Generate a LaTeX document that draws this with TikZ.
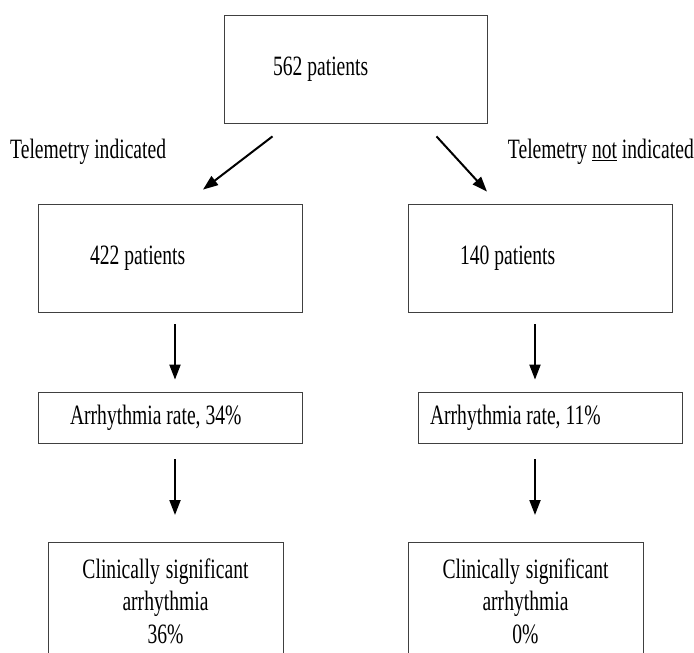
\documentclass[tikz,border=0pt]{standalone}
\usepackage{fontspec}
\setmainfont{Liberation Serif}[FakeStretch=0.7]
\usetikzlibrary{arrows.meta}
\tikzset{
  box/.style={draw=black!75, line width=0.8pt, font=\fontsize{28}{32.5}\selectfont,
    execute at begin node={\spaceskip=0pt\xspaceskip=0pt}},
  lbl/.style={font=\fontsize{28}{32.5}\selectfont, inner sep=0pt},
  flow/.style={-{Triangle[length=15pt,width=11pt]}, line width=2pt}
}
\begin{document}
\begin{tikzpicture}[x=1pt, y=-1pt]
            \clip (0,0) rectangle (694,653) ;
            \node[box, text width=165pt, inner xsep=49pt, minimum height=108pt, align=left] (all) at (355.5,69) {562 patients};
            \node[lbl, anchor=west] (yes) at (10,152) {Telemetry indicated};
            \node[lbl, anchor=east] (no) at (694,152) {Telemetry \underline{not} indicated};
            
            \node[box, text width=160pt, inner xsep=52pt, minimum height=108pt, align=left] (pyes) at (170,258) {422 patients};
            \node[box, text width=160pt, inner xsep=52pt, minimum height=108pt, align=left] (pno) at (540,258) {140 patients};
            \draw[flow] ([xshift=-83pt,yshift=-13pt]all.south) -- ([xshift=33pt,yshift=14pt]pyes.north) ;
            \draw[flow] ([xshift=81pt,yshift=-13pt]all.south) -- ([xshift=-53pt,yshift=12pt]pno.north) ;
            
            \node[box, text width=200pt, inner xsep=32pt, minimum height=51pt, align=left] (ryes) at (170,417.5) {Arrhythmia rate, 34\%};
            \node[box, text width=240pt, inner xsep=12pt, minimum height=51pt, align=left] (rno) at (550,417.5) {Arrhythmia rate, 11\%};
            \draw[flow] ([xshift=5pt,yshift=-12pt]pyes.south) -- ([xshift=5pt,yshift=12pt]pyes.south |- ryes.north) ;
            \draw[flow] ([xshift=-5pt,yshift=-12pt]pno.south) -- ([xshift=-5pt,yshift=12pt]pno.south |- rno.north) ;
            
            \node[box, text width=215pt, inner xsep=10pt, inner ysep=16pt, anchor=north, align=center] (cyes) at (165.5,542) {Clinically significant\\arrhythmia\\36\%\\[8pt]};
            \node[box, text width=215pt, inner xsep=10pt, inner ysep=16pt, anchor=north, align=center] (cno) at (525.5,542) {Clinically significant\\arrhythmia\\0\%\\[8pt]};
            \draw[flow] ([xshift=5pt,yshift=-16pt]ryes.south) -- ([xshift=5pt,yshift=27pt]ryes.south |- cyes.north) ;
            \draw[flow] ([xshift=-5pt,yshift=-16pt]pno.south |- rno.south) -- ([xshift=-5pt,yshift=27pt]pno.south |- cno.north) ;
        \end{tikzpicture}
\end{document}
